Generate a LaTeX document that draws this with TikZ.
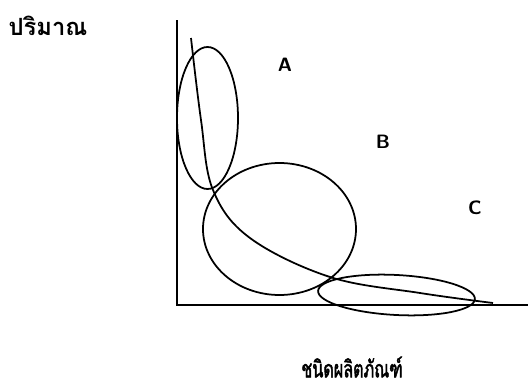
\documentclass[tikz,border=0pt]{standalone}
\usepackage{fontspec}
\newfontfamily\thaifont[Script=Thai]{Loma}
\newfontfamily\thainarrow[Script=Thai, FakeStretch=0.68, FakeBold=1.8]{Loma}
\usetikzlibrary{positioning}

\begin{document}
\begin{tikzpicture}[x=0.02cm, y=-0.02cm,
  axis/.style={line width=1.1pt},
  ring/.style={line width=1pt},
  zone/.style={font=\sffamily\bfseries\fontsize{11}{13}\selectfont},
  thlbl/.style={font=\thaifont\fontsize{13.5}{15}\selectfont\bfseries},
  thnarrow/.style={font=\thainarrow\fontsize{13.5}{15}\selectfont, inner sep=0pt}]
\useasboundingbox (0,0) rectangle (529,389);
% axes
\coordinate (top) at (177,20);
\coordinate (org) at (177,305);
\coordinate (end) at (528,305);
\draw[axis] (top) -- (org) -- (end);
% groups
\draw[ring] (207.5,118) ellipse [x radius=30.5, y radius=71];
\draw[ring] (279.5,229) ellipse [x radius=76.5, y radius=66];
\draw[ring, rotate around={-3:(396.5,295)}] (396.5,295) ellipse [x radius=78.5, y radius=20];
% trend curve
\draw[ring] plot[smooth, tension=0.6] coordinates {(191,38) (201,120) (213,190) (250,238) (330,277) (420,293) (493,303)};
% labels
\node[zone] (A) at (285,65) {A};
\node[zone] (B) at (383,142) {B};
\node[zone] (C) at (475,208) {C};
\node[thlbl] (qty) at (48,26) {ปริมาณ};
\node[thnarrow] (kind) at (352,367) {ชนิดผลิตภัณฑ์};
\end{tikzpicture}
\end{document}
